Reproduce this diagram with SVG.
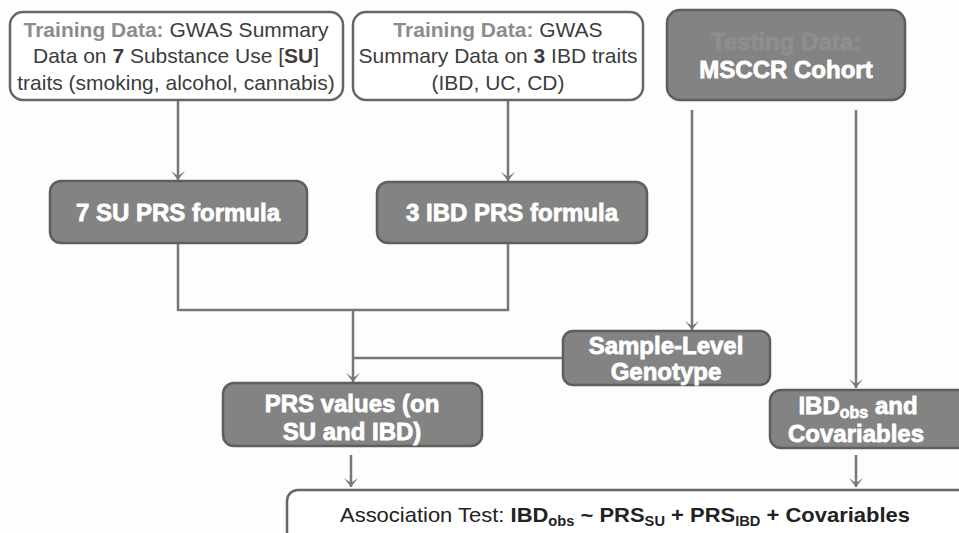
<svg xmlns="http://www.w3.org/2000/svg" width="959" height="533" viewBox="0 0 959 533">
<defs>
<style>
.wbox{fill:#ffffff;stroke:#666666;stroke-width:2.5}
.gbox{fill:#838383;stroke:#5e5e5e;stroke-width:2.5}
.t1{font-family:"Liberation Sans",Arial,sans-serif;font-size:21px;fill:#3c3c3c;text-anchor:middle}
.lab{font-weight:bold;fill:#8c8c8c}
.b{font-weight:bold}
.t2{font-family:"Liberation Sans",Arial,sans-serif;font-size:24px;font-weight:bold;fill:#ffffff;stroke:#ffffff;stroke-width:0.8;text-anchor:middle}
.con{fill:none;stroke:#777777;stroke-width:2.5}
.t3{font-family:"Liberation Sans",Arial,sans-serif;font-size:21px;fill:#222222}
</style>
<marker id="av" viewBox="0 0 14 14" refX="7" refY="13" markerWidth="14" markerHeight="14" markerUnits="userSpaceOnUse" orient="0">
<path d="M0,4 L7,13 L14,4 L7,9 Z" fill="#777777"/>
</marker>
</defs>
<rect width="959" height="533" fill="#fdfdfd"/>
<g id="connectors">
<path class="con" d="M178,100 V180" marker-end="url(#av)"/>
<path class="con" d="M508,100 V181" marker-end="url(#av)"/>
<path class="con" d="M178,243 V310 H508 V243"/>
<path class="con" d="M353,310 V382" marker-end="url(#av)"/>
<path class="con" d="M353,358 H563"/>
<path class="con" d="M692,110 V330" marker-end="url(#av)"/>
<path class="con" d="M856,110 V388" marker-end="url(#av)"/>
<path class="con" d="M351,455 V487" marker-end="url(#av)"/>
<path class="con" d="M856,455 V487" marker-end="url(#av)"/>
</g>
<g id="su-training">
<rect class="wbox" x="10" y="12" width="333" height="88" rx="13"/>
<text class="t1" x="176" y="37"><tspan class="lab">Training Data:</tspan> GWAS Summary</text>
<text class="t1" x="176" y="63">Data on <tspan class="b">7</tspan> Substance Use [<tspan class="b">SU</tspan>]</text>
<text class="t1" x="176" y="90">traits (smoking, alcohol, cannabis)</text>
</g>
<g id="ibd-training">
<rect class="wbox" x="353" y="12" width="290" height="88" rx="13"/>
<text class="t1" x="498" y="37"><tspan class="lab">Training Data:</tspan> GWAS</text>
<text class="t1" x="498" y="63">Summary Data on <tspan class="b">3</tspan> IBD traits</text>
<text class="t1" x="498" y="90">(IBD, UC, CD)</text>
</g>
<g id="msccr">
<rect class="gbox" x="667" y="10" width="238" height="90" rx="13"/>
<text class="t2" x="786" y="50" style="fill:#8e8e8e;stroke:#8e8e8e">Testing Data:</text>
<text class="t2" x="786" y="78">MSCCR Cohort</text>
</g>
<g id="su-prs">
<rect class="gbox" x="50" y="181" width="257" height="62" rx="11"/>
<text class="t2" x="178" y="221">7 SU PRS formula</text>
</g>
<g id="ibd-prs">
<rect class="gbox" x="377" y="182" width="270" height="61" rx="11"/>
<text class="t2" x="512" y="221">3 IBD PRS formula</text>
</g>
<g id="genotype">
<rect class="gbox" x="563" y="331" width="207" height="54" rx="10"/>
<text class="t2" x="666" y="354">Sample-Level</text>
<text class="t2" x="666" y="380">Genotype</text>
</g>
<g id="prs-values">
<rect class="gbox" x="223" y="383" width="259" height="63" rx="11"/>
<text class="t2" x="352" y="412">PRS values (on</text>
<text class="t2" x="352" y="440">SU and IBD)</text>
</g>
<g id="ibd-obs">
<rect class="gbox" x="770" y="390" width="200" height="58" rx="11"/>
<text class="t2" x="858" y="414">IBD<tspan font-size="16" dy="4">obs</tspan><tspan dy="-4"> and</tspan></text>
<text class="t2" x="856" y="442">Covariables</text>
</g>
<g id="association">
<rect class="wbox" x="287" y="490" width="700" height="60" rx="11"/>
<text class="t3" x="340" y="522" textLength="570" lengthAdjust="spacingAndGlyphs">Association Test: <tspan class="b">IBD</tspan><tspan class="b" font-size="14" dy="4">obs</tspan><tspan class="b" dy="-4"> ~ PRS</tspan><tspan class="b" font-size="14" dy="4">SU</tspan><tspan class="b" dy="-4"> + PRS</tspan><tspan class="b" font-size="14" dy="4">IBD</tspan><tspan class="b" dy="-4"> + Covariables</tspan></text>
</g>
</svg>
